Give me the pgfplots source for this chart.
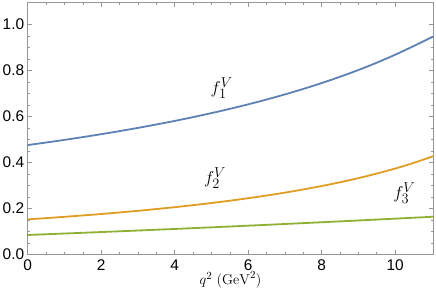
\documentclass[border=0pt]{standalone}
\usepackage[no-math]{fontspec}
\setmainfont{Liberation Sans}
\usepackage{pgfplots}
\pgfplotsset{compat=1.18}
\definecolor{mblue}{RGB}{94,129,181}
\definecolor{morange}{RGB}{225,156,36}
\definecolor{mgreen}{RGB}{143,176,50}
\definecolor{frame}{RGB}{150,150,150}
\begin{document}
\begin{tikzpicture}
\begin{axis}[
  scale only axis, width=405.6bp, height=251.6bp,
  xmin=0, xmax=11.04, ymin=0, ymax=1.094,
  axis line style={draw=frame, line width=0.6bp},
  every tick/.style={frame, line width=0.5bp},
  tick align=inside,
  major tick length=4.5bp, minor tick length=2.7bp,
  xtick={0,2,4,6,8,10}, minor x tick num=3,
  ytick={0,0.2,0.4,0.6,0.8,1.0}, minor y tick num=3,
  /pgf/number format/assume math mode=true,
  yticklabel style={/pgf/number format/fixed, /pgf/number format/fixed zerofill, /pgf/number format/precision=1},
  ticklabel style={font=\fontsize{15.5}{17}\selectfont, text=black},
  xticklabel style={yshift=-2bp},
  xlabel={$q^2~(\mathrm{GeV}^2)$},
  xlabel style={font=\fontsize{15.5}{17}\selectfont, yshift=6bp},
  clip=true,
]
\addplot[mblue, line width=1.8bp, smooth] coordinates {
(0,0.4750) (0.5,0.4860) (1,0.4975) (1.5,0.5096) (2,0.5223) (2.5,0.5356)
(3,0.5496) (3.5,0.5644) (4,0.5800) (4.5,0.5964) (5,0.6139) (5.5,0.6324)
(6,0.6520) (6.5,0.6729) (7,0.6952) (7.5,0.7190) (8,0.7445) (8.5,0.7719)
(9,0.8013) (9.5,0.8331) (10,0.8676) (10.5,0.9050) (11.04,0.9470)
};
\addplot[morange, line width=1.8bp, smooth] coordinates {
(0,0.1520) (0.5,0.1573) (1,0.1630) (1.5,0.1689) (2,0.1752) (2.5,0.1820)
(3,0.1891) (3.5,0.1968) (4,0.2049) (4.5,0.2136) (5,0.2230) (5.5,0.2330)
(6,0.2439) (6.5,0.2555) (7,0.2682) (7.5,0.2819) (8,0.2969) (8.5,0.3132)
(9,0.3312) (9.5,0.3510) (10,0.3728) (10.5,0.3971) (11.04,0.4266)
};
\addplot[mgreen, line width=1.8bp, smooth] coordinates {
(0,0.0840) (1,0.0903) (2,0.0968) (3,0.1034) (4,0.1102) (5,0.1173)
(6,0.1244) (7,0.1318) (8,0.1394) (9,0.1471) (10,0.1550) (11.04,0.1634)
};
\node[font=\fontsize{19}{21}\selectfont] at (axis cs:5.28,0.723) {$f_1^V$};
\node[font=\fontsize{19}{21}\selectfont] at (axis cs:5.1,0.332) {$f_2^V$};
\node[font=\fontsize{19}{21}\selectfont] at (axis cs:10.25,0.267) {$f_3^V$};
\end{axis}
\pgfresetboundingbox
\path[use as bounding box] ([xshift=-27.7bp,yshift=-40.7bp]current axis.south west) rectangle ([xshift=2.7bp,yshift=2.7bp]current axis.north east);
\end{tikzpicture}
\end{document}
